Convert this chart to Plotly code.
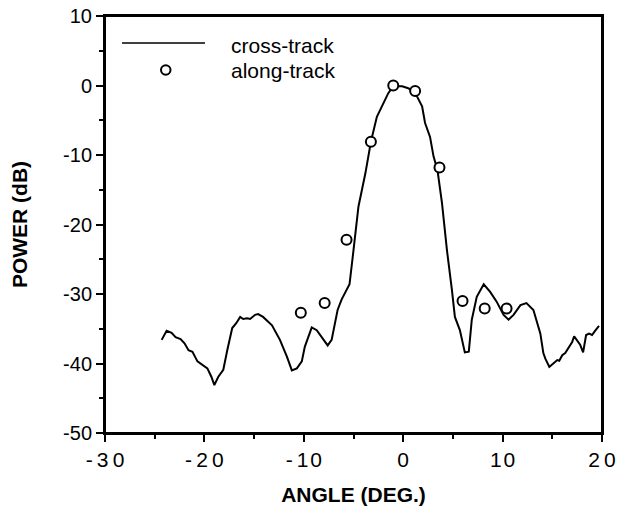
import plotly.graph_objects as go

# cross-track pattern (angle in deg, power in dB)
cross_angle = [-24.3, -23.8, -23.3, -22.9, -22.4, -22.0, -21.6, -21.2, -20.7, -20.2,
               -19.7, -19.3, -19.0, -18.6, -18.1, -17.7, -17.2, -16.8, -16.4, -16.1,
               -15.7, -15.4, -14.9, -14.6, -14.1, -13.2, -12.4, -11.7, -11.2, -10.7,
               -10.2, -9.9, -9.2, -8.7, -8.0, -7.6, -7.2, -6.6, -6.2, -5.4,
               -5.0, -4.5, -3.8, -3.25, -2.65, -2.0, -1.5, -1.0, -0.1, 0.5,
               1.2, 1.4, 1.9, 2.2, 2.7, 3.05, 3.45, 3.9, 4.4, 4.9,
               5.2, 5.7, 6.2, 6.6, 6.9, 7.4, 8.1, 8.75, 9.4, 10.1,
               10.6, 11.1, 11.8, 12.4, 13.1, 13.8, 14.1, 14.3, 14.7, 15.1,
               15.5, 15.7, 16.0, 16.3, 16.6, 17.0, 17.2, 17.5, 17.8, 18.1,
               18.4, 18.7, 19.0, 19.3, 19.7]
cross_power = [-36.6, -35.3, -35.6, -36.2, -36.5, -37.1, -38.1, -38.3, -39.7, -40.2,
               -40.7, -41.9, -43.1, -41.9, -40.9, -38.1, -34.9, -34.2, -33.3, -33.6,
               -33.5, -33.6, -33.0, -32.9, -33.3, -34.5, -36.6, -39.0, -41.0, -40.7,
               -39.7, -37.6, -34.8, -35.2, -36.6, -37.4, -36.6, -32.3, -30.8, -28.6,
               -23.7, -17.4, -12.6, -8.1, -4.5, -2.6, -1.1, -0.1, -0.1, -0.4,
               -0.9, -1.6, -3.0, -5.4, -7.4, -10.2, -12.2, -16.9, -23.7, -29.4,
               -33.3, -35.2, -38.4, -38.3, -33.7, -30.4, -28.6, -29.7, -31.1, -33.0,
               -33.7, -33.0, -31.6, -31.3, -32.3, -35.7, -38.5, -39.3, -40.5, -40.0,
               -39.5, -39.6, -38.8, -38.5, -37.8, -36.9, -36.1, -36.7, -37.3, -38.4,
               -35.9, -35.7, -35.9, -35.3, -34.6]

# along-track measurements
along_angle = [-10.3, -7.9, -5.7, -3.25, -1.0, 1.2, 3.65, 5.97, 8.2, 10.4]
along_power = [-32.7, -31.3, -22.2, -8.1, 0.0, -0.8, -11.8, -31.0, -32.1, -32.1]

x_tickvals = [-30, -20, -10, 0, 10, 20]
x_ticktext = ["-\u20093\u20090", "-\u20092\u20090", "-\u20091\u200a0", "0", "1\u200a0", "2\u20090"]
y_tickvals = [10, 0, -10, -20, -30, -40, -50]
y_ticktext = ["10", "0", "-10", "-20", "-30", "-40", "-50"]

FONT = "Liberation Sans, Arial, Helvetica, sans-serif"
W, H = 623, 507
ML, MR, MT, MB = 105, 21, 16, 74
PW, PH = W - ML - MR, H - MT - MB


def px(xs):
    return (xs - ML) / PW


def py(ys):
    return (H - MB - ys) / PH


fig = go.Figure()
fig.add_trace(go.Scatter(x=cross_angle, y=cross_power, mode="lines", name="cross-track",
                         line=dict(color="black", width=2), showlegend=False))
fig.add_trace(go.Scatter(x=along_angle, y=along_power, mode="markers", name="along-track",
                         marker=dict(symbol="circle", size=10, color="white",
                                     line=dict(color="black", width=2)),
                         showlegend=False))

# plot frame
fig.add_shape(type="rect", xref="paper", yref="paper", x0=0, x1=1, y0=0, y1=1,
              line=dict(color="black", width=2), layer="above")

# legend drawn in paper coordinates
fig.add_shape(type="line", xref="paper", yref="paper", x0=px(122), x1=px(205),
              y0=py(43), y1=py(43), line=dict(color="black", width=1.5))
fig.add_shape(type="circle", xref="paper", yref="paper", x0=px(161), x1=px(170.5),
              y0=py(65.3), y1=py(74.7), line=dict(color="black", width=2), fillcolor="white")
fig.add_annotation(xref="paper", yref="paper", x=px(229), y=py(45), text="cross-track",
                   showarrow=False, xanchor="left", yanchor="middle",
                   font=dict(family=FONT, size=21, color="black"))
fig.add_annotation(xref="paper", yref="paper", x=px(229), y=py(71), text="along-track",
                   showarrow=False, xanchor="left", yanchor="middle",
                   font=dict(family=FONT, size=21, color="black"))

axis_common = dict(showgrid=False, zeroline=False, showline=True, linecolor="black",
                   linewidth=2, mirror=True, ticks="outside", tickcolor="black",
                   tickwidth=1.5, ticklen=7, ticklabeloverflow="allow")

fig.update_xaxes(range=[-30, 20], tickvals=x_tickvals, ticktext=x_ticktext,
                 tickfont=dict(family=FONT, size=21, color="black"),
                 title=dict(text="<b>ANGLE (DEG.)</b>", standoff=17,
                            font=dict(family=FONT, size=21, color="black")),
                 minor=dict(dtick=5, ticks="outside", ticklen=4, tickcolor="black", tickwidth=1.5),
                 **axis_common)
fig.update_yaxes(range=[-50, 10], tickvals=y_tickvals, ticktext=y_ticktext,
                 tickfont=dict(family=FONT, size=20, color="black"),
                 title=dict(text="<b>POWER (dB)</b>", standoff=30,
                            font=dict(family=FONT, size=21, color="black")),
                 minor=dict(dtick=5, ticks="outside", ticklen=4, tickcolor="black", tickwidth=1.5),
                 **axis_common)

fig.update_layout(width=W, height=H, margin=dict(l=ML, r=MR, t=MT, b=MB, autoexpand=False),
                  paper_bgcolor="white", plot_bgcolor="white", showlegend=False,
                  font=dict(family=FONT, color="black"))

fig.write_html("out.html", config={"displayModeBar": False},
               post_script="document.body.style.margin='0';")
